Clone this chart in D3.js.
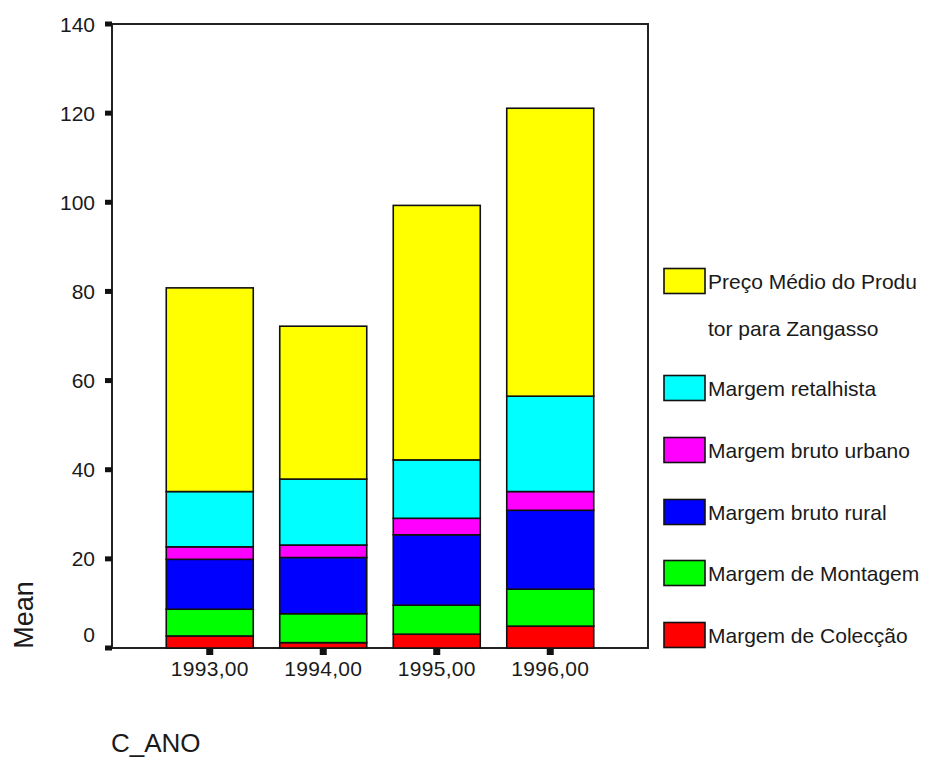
<!DOCTYPE html>
<html>
<head>
<meta charset="utf-8">
<script src="https://cdn.jsdelivr.net/npm/d3@7"></script>
<style>
  body { margin: 0; background: #fff; }
  svg { display: block; }
  text { font-family: "Liberation Sans", Arial, sans-serif; fill: #1a1a1a; }
</style>
</head>
<body>
<svg id="chart" width="925" height="758"></svg>
<script>
// ---- Data ----
const categories = ["1993,00", "1994,00", "1995,00", "1996,00"];
const seriesNames = [
  "Margem de Colecção",
  "Margem de Montagem",
  "Margem bruto rural",
  "Margem bruto urbano",
  "Margem retalhista",
  "Preço Médio do Produtor para Zangasso"
];
const margemColeccao   = [2.7, 1.2, 3.1, 4.9];
const margemMontagem   = [6.0, 6.5, 6.5, 8.3];
const margemBrutoRural = [11.2, 12.6, 15.8, 17.7];
const margemBrutoUrbano= [2.8, 2.8, 3.7, 4.2];
const margemRetalhista = [12.4, 14.8, 13.1, 21.4];
const precoMedio       = [45.7, 34.3, 57.1, 64.6];
const yTicks = [0, 20, 40, 60, 80, 100, 120, 140];
const colors = ["#ff0000", "#00ff00", "#0000ff", "#ff00ff", "#00ffff", "#ffff00"];
const legendLabels = [
  ["Preço Médio do Produ", "tor para Zangasso"],
  ["Margem retalhista"],
  ["Margem bruto urbano"],
  ["Margem bruto rural"],
  ["Margem de Montagem"],
  ["Margem de Colecção"]
];

const seriesValues = [margemColeccao, margemMontagem, margemBrutoRural, margemBrutoUrbano, margemRetalhista, precoMedio];
const table = categories.map((c, i) => {
  const row = { cat: c };
  seriesNames.forEach((s, j) => row[s] = seriesValues[j][i]);
  return row;
});

// ---- Layout ----
const svg = d3.select("#chart");
const pLeft = 112, pRight = 648, pTop = 24, pBottom = 648;
const FS = 21;

const x = d3.scaleBand().domain(categories).range([pLeft, pRight])
  .paddingInner(0.2335).paddingOuter(0.478);
const y = d3.scaleLinear().domain([0, 140]).range([pBottom, pTop]);

const stacked = d3.stack().keys(seriesNames)(table);

// Frame
svg.append("rect")
  .attr("x", pLeft).attr("y", pTop)
  .attr("width", pRight - pLeft).attr("height", pBottom - pTop)
  .attr("fill", "none").attr("stroke", "#222").attr("stroke-width", 2);

// Bars
stacked.forEach((layer, j) => {
  svg.append("g").selectAll("rect").data(layer).join("rect")
    .attr("x", d => x(d.data.cat))
    .attr("width", x.bandwidth())
    .attr("y", d => y(d[1]))
    .attr("height", d => y(d[0]) - y(d[1]))
    .attr("fill", colors[j])
    .attr("stroke", "#111")
    .attr("stroke-width", 1.6);
});

// Y axis ticks and labels
const yg = svg.append("g");
yg.selectAll("rect").data(yTicks).join("rect")
  .attr("x", pLeft - 7).attr("y", d => y(d) - 2.5)
  .attr("width", 7).attr("height", 5).attr("fill", "#111");
yg.selectAll("text").data(yTicks).join("text")
  .attr("x", 95)
  .attr("y", d => y(d) + 7.5 - (d === 0 ? 14 : 0))
  .attr("text-anchor", "end")
  .attr("font-size", FS)
  .text(d => d);

// X axis ticks and labels
const xg = svg.append("g");
xg.selectAll("rect").data(categories).join("rect")
  .attr("x", d => x(d) + x.bandwidth() / 2 - 3.5).attr("y", pBottom + 1)
  .attr("width", 7).attr("height", 6).attr("fill", "#111");
xg.selectAll("text").data(categories).join("text")
  .attr("x", d => x(d) + x.bandwidth() / 2)
  .attr("y", 676)
  .attr("text-anchor", "middle")
  .attr("font-size", FS)
  .attr("letter-spacing", 0.3)
  .text(d => d);

// Axis titles
svg.append("text")
  .attr("transform", "translate(33,615) rotate(-90)")
  .attr("text-anchor", "middle")
  .attr("font-size", 27)
  .text("Mean");
svg.append("text")
  .attr("x", 111).attr("y", 752)
  .attr("font-size", 26)
  .text("C_ANO");

// Legend
const legendY = [281, 388, 450, 512, 573, 635];
const legendColors = colors.slice().reverse();
const lg = svg.append("g");
legendLabels.forEach((lines, i) => {
  const cy = legendY[i];
  lg.append("rect")
    .attr("x", 664).attr("y", cy - 12.5)
    .attr("width", 41).attr("height", 25)
    .attr("fill", legendColors[i]).attr("stroke", "#111").attr("stroke-width", 1.6);
  lines.forEach((t, k) => {
    lg.append("text")
      .attr("x", 708)
      .attr("y", cy + 7.5 + k * 47)
      .attr("font-size", FS)
      .text(t);
  });
});
</script>
</body>
</html>
